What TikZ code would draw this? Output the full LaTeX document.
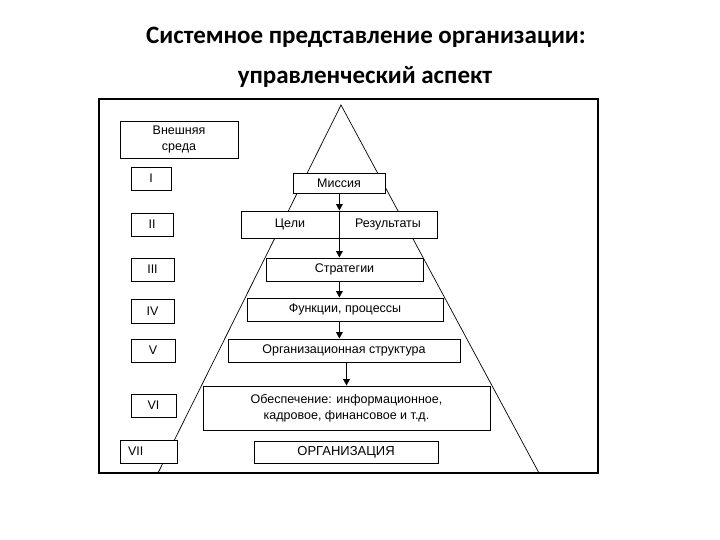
\documentclass[tikz,border=0pt]{standalone}
\usepackage{fontspec}
\setmainfont{Liberation Sans}
\newfontfamily\titlefont{Carlito}
\usetikzlibrary{arrows.meta}

\tikzset{
  box/.style={draw, fill=white, line width=0.8pt, inner sep=0pt,
    align=center, font=\fontsize{12.5}{16}\selectfont},
  flow/.style={line width=1.6pt, -{Triangle[width=6.5pt,length=6.5pt]}},
}

\begin{document}
\begin{tikzpicture}[x=1pt,y=-1pt]
  \useasboundingbox (0,0) rectangle (720,540);

  % title
  \node[font=\titlefont\bfseries\fontsize{25}{30}\selectfont] (title1) at (366,37) {Системное представление организации:};
  \node[font=\titlefont\bfseries\fontsize{25}{30}\selectfont] (title2) at (365,77) {управленческий аспект};

  % frame and pyramid
  \draw[line width=1.4pt] (99,99) rectangle (598,473);
  \draw[line width=0.7pt] (158,473) -- (341,105) -- (539,473);

  % levels on the left
  \node[box, minimum width=118pt, minimum height=37pt] (env) at (179,139.5) {Внешняя\\среда};
  \node[box, minimum width=40pt, minimum height=23pt] (l1) at (151,178.5) {I};
  \node[box, minimum width=42pt, minimum height=23pt] (l2) at (152,224.5) {II};
  \node[box, minimum width=43pt, minimum height=23pt] (l3) at (152.5,269.5) {III};
  \node[box, minimum width=43pt, minimum height=24pt] (l4) at (152.5,311) {IV};
  \node[box, minimum width=44pt, minimum height=23pt] (l5) at (153,350.5) {V};
  \node[box, minimum width=45pt, minimum height=23pt] (l6) at (153.5,405.5) {VI};
  \node[box, minimum height=23pt, text width=41pt, inner xsep=8pt, align=left] (l7) at (148.5,451.5) {VII};

  % the pyramid content
  \node[box, minimum width=92pt, minimum height=20pt] (mis) at (339,183) {Миссия};
  \node[box, minimum width=98pt, minimum height=27pt] (goals) at (290,224.5) {Цели};
  \node[box, minimum width=98pt, minimum height=27pt] (res) at (388,224.5) {Результаты};
  \draw[line width=0.9pt] (goals.north east) -- (goals.south east);
  \node[box, minimum width=157pt, minimum height=23pt] (strat) at (344.5,269.5) {Стратегии};
  \node[box, minimum width=196pt, minimum height=23pt] (func) at (345,309.5) {Функции, процессы};
  \node[box, minimum width=232pt, minimum height=23pt] (struct) at (344,350.5) {Организационная структура};
  \node[box, minimum width=287pt, minimum height=44pt] (supp) at (346.5,408) {Обеспечение: информационное,\\кадровое, финансовое и т.д.};
  \node[box, minimum width=184pt, minimum height=22pt, font=\fontsize{13}{15}\selectfont] (org) at (346,452) {ОРГАНИЗАЦИЯ};

  \draw[flow] (goals.north east |- mis.south) -- (goals.north east);
  \draw[flow] (goals.south east) -- (goals.south east |- strat.north);
  \draw[flow] (strat.south -| goals.east) -- (func.north -| goals.east);
  \draw[flow] (func.south -| goals.east) -- (struct.north -| goals.east);
  \draw[flow] (struct.south -| supp.north) -- (supp.north);
\end{tikzpicture}
\end{document}
